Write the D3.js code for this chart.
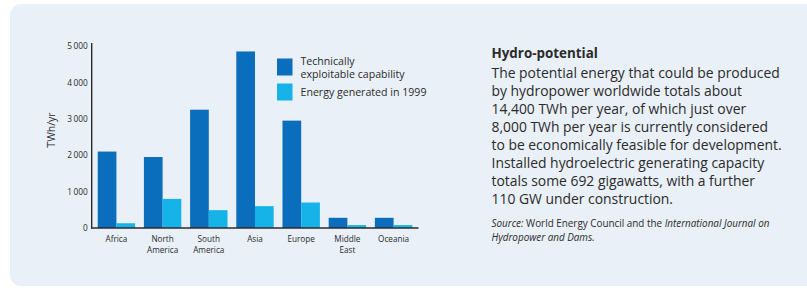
<!DOCTYPE html>
<html><head><meta charset="utf-8">
<script src="https://cdn.jsdelivr.net/npm/d3@7/dist/d3.min.js"></script>
<style>
html,body{margin:0;padding:0;background:#fff;}
svg{display:block;}
text{font-family:"Open Sans","Noto Sans",sans-serif;}
</style></head>
<body>
<svg id="c" width="807" height="288"></svg>
<script>
const categories = [["Africa"],["North","America"],["South","America"],["Asia"],["Europe"],["Middle","East"],["Oceania"]];
const seriesNames = ["Technically exploitable capability","Energy generated in 1999"];
const exploitable = [2100, 1950, 3250, 4850, 2950, 280, 280];
const generated1999 = [130, 800, 490, 600, 700, 80, 80];
const yTicks = [0, 1000, 2000, 3000, 4000, 5000];
const yLabel = "TWh/yr";
const title = "Hydro-potential";
const bodyLines = [
  "The potential energy that could be produced",
  "by hydropower worldwide totals about",
  "14,400 TWh per year, of which just over",
  "8,000 TWh per year is currently considered",
  "to be economically feasible for development.",
  "Installed hydroelectric generating capacity",
  "totals some 692 gigawatts, with a further",
  "110 GW under construction."
];

const svg = d3.select("#c");
const dark = "#0a6ebd", light = "#16b3e8", ink = "#2b2b2b";

// panel
svg.append("rect").attr("x",10).attr("y",4).attr("width",830).attr("height",282)
  .attr("rx",11).attr("fill","#e9f0f7");

const keys = categories.map(c => c.join(" "));
const x = d3.scaleBand().domain(keys).range([91.7, 418.3]).paddingInner(0.19).paddingOuter(0.13);
const y = d3.scaleLinear().domain([0,5000]).range([228,46]);
const xs = d3.scaleBand().domain([0,1]).range([0, x.bandwidth()]);

const loc = d3.formatLocale({thousands:"\u2009", grouping:[3], decimal:".", currency:["",""]});
const fmt = loc.format(",d");

// bars
const g = svg.append("g");
[exploitable, generated1999].forEach((vals, si) => {
  g.selectAll(null).data(vals).enter().append("rect")
    .attr("x", (d,i) => x(keys[i]) + xs(si))
    .attr("width", xs.bandwidth())
    .attr("y", d => y(d))
    .attr("height", d => y(0) - y(d))
    .attr("fill", si ? light : dark);
});

// y axis
const ya = svg.append("g").attr("transform","translate(91.7,0)")
  .call(d3.axisLeft(y).tickValues(yTicks).tickSize(0).tickPadding(4).tickFormat(d => fmt(d)));
ya.select(".domain").remove();
ya.selectAll("text").attr("font-size",8.3).attr("fill",ink).attr("font-family","Open Sans");
svg.append("line").attr("x1",91.7).attr("x2",91.7).attr("y1",43).attr("y2",y(0)+0.5)
  .attr("stroke",ink).attr("stroke-width",1.4);
svg.append("line").attr("x1",91).attr("x2",418.5).attr("y1",y(0)).attr("y2",y(0))
  .attr("stroke",ink).attr("stroke-width",1.4);

svg.append("text").attr("transform","translate(55,130) rotate(-90)")
  .attr("text-anchor","middle").attr("font-size",10.5).attr("fill",ink).text(yLabel);

// x labels
const xl = svg.append("g");
categories.forEach((c,i) => {
  const t = xl.append("text").attr("x", x(keys[i]) + x.bandwidth()/2).attr("y", 242)
    .attr("text-anchor","middle").attr("font-size",8.2).attr("fill",ink);
  c.forEach((line,j) => t.append("tspan").attr("x", x(keys[i]) + x.bandwidth()/2).attr("dy", j?11:0).text(line));
});

// legend
const lg = svg.append("g");
lg.append("rect").attr("x",277).attr("y",58.5).attr("width",15.5).attr("height",17).attr("fill",dark);
lg.append("rect").attr("x",277).attr("y",83.5).attr("width",15.5).attr("height",17).attr("fill",light);
const lt = lg.append("text").attr("x",300.5).attr("y",64.5).attr("font-size",10.6).attr("fill",ink);
lt.append("tspan").attr("x",300.5).text("Technically");
lt.append("tspan").attr("x",300.5).attr("dy",13.3).text("exploitable capability");
lg.append("text").attr("x",300.5).attr("y",96).attr("font-size",10.6).attr("fill",ink).text(seriesNames[1]);

// text block
svg.append("text").attr("x",491.5).attr("y",57.5).attr("font-size",13.4).attr("font-weight",700)
  .attr("fill",ink).text(title);
const body = svg.append("text").attr("x",491.5).attr("y",77.5).attr("font-size",13.9).attr("fill",ink);
bodyLines.forEach((l,i) => body.append("tspan").attr("x",491.5).attr("dy", i?18.1:0).text(l));

const src = svg.append("text").attr("x",491.5).attr("y",226.5).attr("font-size",9.9).attr("fill",ink);
src.append("tspan").attr("font-style","italic").text("Source: ");
src.append("tspan").text("World Energy Council and the ");
src.append("tspan").attr("font-style","italic").text("International Journal on");
src.append("tspan").attr("x",491.5).attr("dy",14).attr("font-style","italic").text("Hydropower and Dams.");
</script>
</body></html>
